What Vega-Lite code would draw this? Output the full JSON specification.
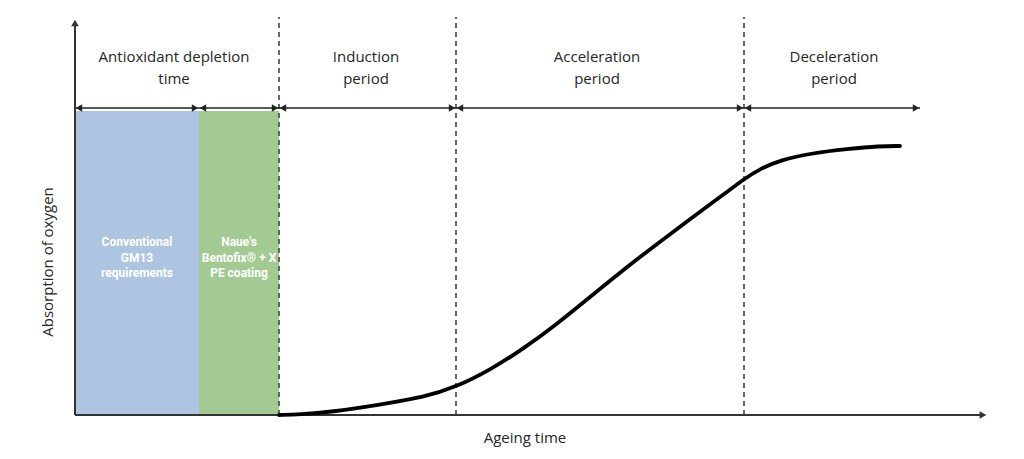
{
  "$schema": "https://vega.github.io/schema/vega-lite/v6.json",
  "autosize": {"type": "none"},
  "width": 912,
  "height": 400,
  "padding": {"left": 75, "top": 15, "right": 37, "bottom": 44},
  "background": "white",
  "config": {"view": {"stroke": null}},
  "datasets": {
    "zones": [
      {"x0": 0, "x1": 124, "y0": 0, "y1": 304, "zone": "Conventional"},
      {"x0": 124, "x1": 204, "y0": 0, "y1": 304, "zone": "Naue"}
    ],
    "phases": [
      {"x": 204, "y0": 0, "y1": 398},
      {"x": 381, "y0": 0, "y1": 398},
      {"x": 669, "y0": 0, "y1": 398}
    ],
    "spans": [
      {"a": 0, "b": 124, "y": 307},
      {"a": 124, "b": 204, "y": 307},
      {"a": 204, "b": 381, "y": 307},
      {"a": 381, "b": 669, "y": 307},
      {"a": 669, "b": 845, "y": 307}
    ],
    "axes": [
      {"x0": 0, "x1": 908, "y0": 0, "y1": 0, "dir": "x"},
      {"x0": 0, "x1": 0, "y0": 0, "y1": 392, "dir": "y"}
    ],
    "curve": [
      {"t": 204, "v": 0},
      {"t": 225, "v": 0.5},
      {"t": 256, "v": 3},
      {"t": 303, "v": 10},
      {"t": 350, "v": 18},
      {"t": 381, "v": 28},
      {"t": 415, "v": 45},
      {"t": 448, "v": 66},
      {"t": 482, "v": 91},
      {"t": 515, "v": 118},
      {"t": 548, "v": 145},
      {"t": 582, "v": 171},
      {"t": 615, "v": 196},
      {"t": 648, "v": 220},
      {"t": 669, "v": 236},
      {"t": 685, "v": 246},
      {"t": 705, "v": 255},
      {"t": 738, "v": 262},
      {"t": 772, "v": 266},
      {"t": 805, "v": 269},
      {"t": 825, "v": 269}
    ],
    "headers": [
      {"x": 99, "y": 358, "label": "Antioxidant depletion\ntime"},
      {"x": 291, "y": 358, "label": "Induction\nperiod"},
      {"x": 522, "y": 358, "label": "Acceleration\nperiod"},
      {"x": 759, "y": 358, "label": "Deceleration\nperiod"}
    ],
    "boxlabels": [
      {"x": 62, "y": 173, "label": "Conventional\nGM13\nrequirements"},
      {"x": 164, "y": 173, "label": "Naue's\nBentofix® + X\nPE coating"}
    ],
    "titles": [
      {"x": 450, "y": -23, "label": "Ageing time", "angle": 0},
      {"x": -27, "y": 153, "label": "Absorption of oxygen", "angle": 270}
    ]
  },
  "layer": [
    {
      "data": {"name": "zones"},
      "mark": {"type": "rect"},
      "encoding": {
        "x": {"field": "x0", "type": "quantitative", "scale": {"domain": [0, 912], "nice": false, "zero": false}, "axis": null},
        "x2": {"field": "x1"},
        "y": {"field": "y0", "type": "quantitative", "scale": {"domain": [0, 400], "nice": false, "zero": false}, "axis": null},
        "y2": {"field": "y1"},
        "color": {"field": "zone", "type": "nominal", "scale": {"domain": ["Conventional", "Naue"], "range": ["#adc5e0", "#a4ca94"]}, "legend": null}
      }
    },
    {
      "data": {"name": "phases"},
      "mark": {"type": "rule", "strokeDash": [5, 4], "strokeWidth": 1.6, "color": "#444"},
      "encoding": {
        "x": {"field": "x", "type": "quantitative"},
        "y": {"field": "y0", "type": "quantitative"},
        "y2": {"field": "y1"}
      }
    },
    {
      "data": {"name": "spans"},
      "mark": {"type": "rule", "strokeWidth": 1.7, "color": "#222"},
      "encoding": {
        "x": {"field": "a", "type": "quantitative"},
        "x2": {"field": "b"},
        "y": {"field": "y", "type": "quantitative"}
      }
    },
    {
      "data": {"name": "spans"},
      "mark": {"type": "point", "shape": "triangle-left", "filled": true, "size": 55, "color": "#222", "opacity": 1},
      "encoding": {
        "x": {"field": "a", "type": "quantitative"},
        "y": {"field": "y", "type": "quantitative"},
        "xOffset": {"value": 4}
      }
    },
    {
      "data": {"name": "spans"},
      "mark": {"type": "point", "shape": "triangle-right", "filled": true, "size": 55, "color": "#222", "opacity": 1},
      "encoding": {
        "x": {"field": "b", "type": "quantitative"},
        "y": {"field": "y", "type": "quantitative"},
        "xOffset": {"value": -4}
      }
    },
    {
      "data": {"name": "axes"},
      "mark": {"type": "rule", "strokeWidth": 2, "color": "#333"},
      "encoding": {
        "x": {"field": "x0", "type": "quantitative"},
        "x2": {"field": "x1"},
        "y": {"field": "y0", "type": "quantitative"},
        "y2": {"field": "y1"}
      }
    },
    {
      "data": {"name": "axes"},
      "transform": [{"filter": "datum.dir == 'x'"}],
      "mark": {"type": "point", "shape": "triangle-right", "filled": true, "size": 60, "color": "#333", "opacity": 1},
      "encoding": {
        "x": {"field": "x1", "type": "quantitative"},
        "y": {"field": "y1", "type": "quantitative"}
      }
    },
    {
      "data": {"name": "axes"},
      "transform": [{"filter": "datum.dir == 'y'"}],
      "mark": {"type": "point", "shape": "triangle-up", "filled": true, "size": 60, "color": "#333", "opacity": 1},
      "encoding": {
        "x": {"field": "x1", "type": "quantitative"},
        "y": {"field": "y1", "type": "quantitative"}
      }
    },
    {
      "data": {"name": "curve"},
      "mark": {"type": "line", "interpolate": "basis", "strokeWidth": 3.8, "color": "#000", "strokeCap": "round"},
      "encoding": {
        "x": {"field": "t", "type": "quantitative"},
        "y": {"field": "v", "type": "quantitative"}
      }
    },
    {
      "data": {"name": "headers"},
      "mark": {"type": "text", "font": "Open Sans", "fontSize": 15, "color": "#262626", "lineBreak": "\n", "lineHeight": 22, "align": "center", "baseline": "middle"},
      "encoding": {
        "x": {"field": "x", "type": "quantitative"},
        "y": {"field": "y", "type": "quantitative"},
        "text": {"field": "label"}
      }
    },
    {
      "data": {"name": "boxlabels"},
      "mark": {"type": "text", "font": "Roboto", "fontSize": 12, "fontWeight": "bold", "color": "white", "lineBreak": "\n", "lineHeight": 15.5, "align": "center", "baseline": "middle"},
      "encoding": {
        "x": {"field": "x", "type": "quantitative"},
        "y": {"field": "y", "type": "quantitative"},
        "text": {"field": "label"}
      }
    },
    {
      "data": {"name": "titles"},
      "mark": {"type": "text", "font": "Open Sans", "fontSize": 15, "color": "#262626", "align": "center", "baseline": "middle"},
      "encoding": {
        "x": {"field": "x", "type": "quantitative"},
        "y": {"field": "y", "type": "quantitative"},
        "text": {"field": "label"},
        "angle": {"field": "angle", "type": "quantitative", "scale": null}
      }
    }
  ]
}
